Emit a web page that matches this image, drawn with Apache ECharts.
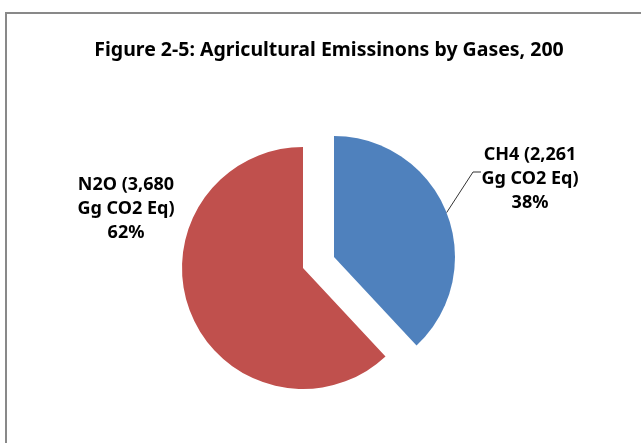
<!DOCTYPE html>
<html>
<head>
<meta charset="utf-8">
<script src="https://cdn.jsdelivr.net/npm/echarts@6/dist/echarts.min.js"></script>
<style>
  html, body { margin: 0; padding: 0; background: #fff; }
  #chart { width: 641px; height: 443px; }
</style>
</head>
<body>
<div id="chart"></div>
<script>
var gases = ['CH4', 'N2O'];
var emissions = [2261, 3680];
var colors = ['#4F81BD', '#C0504D'];

// where each slice sits (CH4 pulled out) and where its label goes
var centers = [[334, 257], [303, 268]];
var labelPos = [[530, 179], [126, 209]];

var chart = echarts.init(document.getElementById('chart'));

function fmtNum(n) {
    return String(n).replace(/\B(?=(\d{3})+(?!\d))/g, ',');
}

// one series per slice, so the exploded one can have its own centre
function makeSeries(k) {
    return {
        type: 'pie',
        center: centers[k],
        radius: 121,
        startAngle: 90,
        clockwise: true,
        avoidLabelOverlap: false,
        emphasis: { disabled: true },
        silent: true,
        itemStyle: { borderWidth: 0 },
        label: {
            show: true,
            position: 'outside',
            fontFamily: 'Noto Sans',
            fontSize: 18,
            fontWeight: 'bold',
            lineHeight: 24,
            color: '#000',
            align: 'center',
            formatter: function (p) {
                return p.name + ' (' + fmtNum(p.value) + '\nGg CO2 Eq)\n' + Math.round(p.percent) + '%';
            }
        },
        labelLine: {
            show: true,
            lineStyle: { color: '#333', width: 1 }
        },
        labelLayout: function (params) {
            if (params.dataIndex !== k) return {};
            var pos = labelPos[k];
            var out = {
                x: pos[0],
                y: pos[1],
                align: 'center',
                verticalAlign: 'middle'
            };
            if (k === 0 && params.labelLinePoints) {
                out.labelLinePoints = [params.labelLinePoints[0], [473, 172], [481, 172]];
            }
            return out;
        },
        data: gases.map(function (g, i) {
            var on = i === k;
            return {
                name: g,
                value: emissions[i],
                itemStyle: { color: on ? colors[i] : 'rgba(0,0,0,0)' },
                label: { show: on },
                labelLine: { show: on && i === 0 }
            };
        })
    };
}

var option = {
    animation: false,
    title: {
        text: 'Figure 2-5: Agricultural Emissinons by Gases, 200',
        left: 324,
        top: 45,
        textAlign: 'center',
        textVerticalAlign: 'middle',
        textStyle: {
            fontFamily: 'Noto Sans',
            fontSize: 19.5,
            fontWeight: 'bold',
            color: '#000'
        }
    },
    graphic: [{
        type: 'rect',
        shape: { x: 6, y: 13, width: 700, height: 500 },
        style: { fill: null, stroke: '#898989', lineWidth: 2 },
        silent: true
    }],
    series: [makeSeries(0), makeSeries(1)]
};

chart.setOption(option);
</script>
</body>
</html>
